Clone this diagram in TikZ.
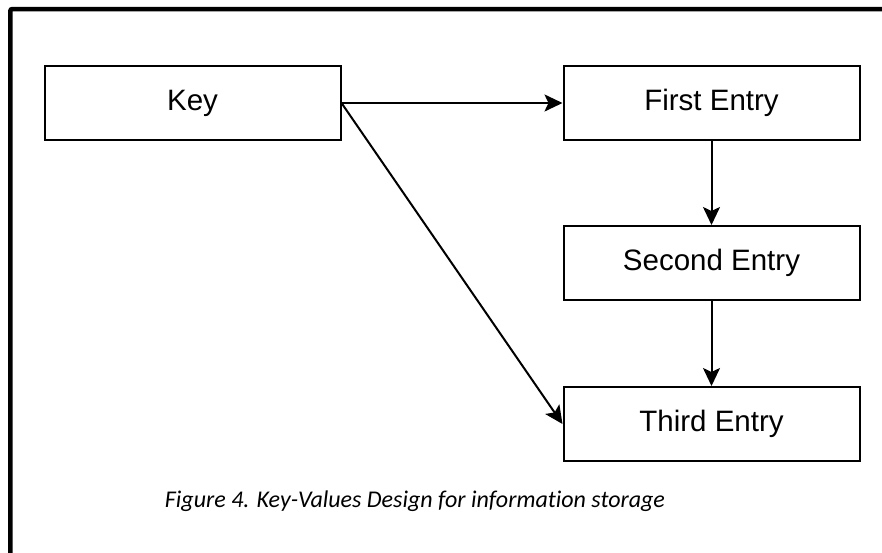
\documentclass[tikz,border=0pt]{standalone}
\usepackage{fontspec}
\setmainfont{Liberation Sans}
\newfontfamily\capfont[Ligatures=NoCommon]{Carlito}
\usetikzlibrary{arrows.meta}
\tikzset{
  entrybox/.style={draw, line width=2pt, minimum width=296pt, minimum height=74pt, inner sep=0pt,
    font=\fontsize{29.5}{34}\selectfont},
  conn/.style={line width=2pt, -{Stealth[length=18pt,width=17pt,inset=4pt]}},
  frameline/.style={line width=4.5pt, rounded corners=2pt}
}
\begin{document}
\begin{tikzpicture}[x=1pt,y=-1pt]
\useasboundingbox (0,0) rectangle (882,552);
\fill[white] (0,0) rectangle (882,552);
\draw[frameline] (10.3,560) -- (10.3,9) -- (890,9);
\node[entrybox] (key) at (192.5,103) {Key};
\node[entrybox] (first) at (711.5,103) {First Entry};
\node[entrybox] (second) at (711.5,263) {Second Entry};
\node[entrybox] (third) at (711.5,424) {Third Entry};
\draw[conn] (key.east) -- (first.west);
\draw[conn] (key.east) -- (third.west);
\draw[conn] (first.south) -- (second.north);
\draw[conn] (second.south) -- (third.north);
\node[anchor=base, inner sep=0pt, font=\capfont\itshape\fontsize{24}{28}\selectfont] (cap) at (415,507) {Figure 4. Key-Values Design for information storage};
\end{tikzpicture}
\end{document}
